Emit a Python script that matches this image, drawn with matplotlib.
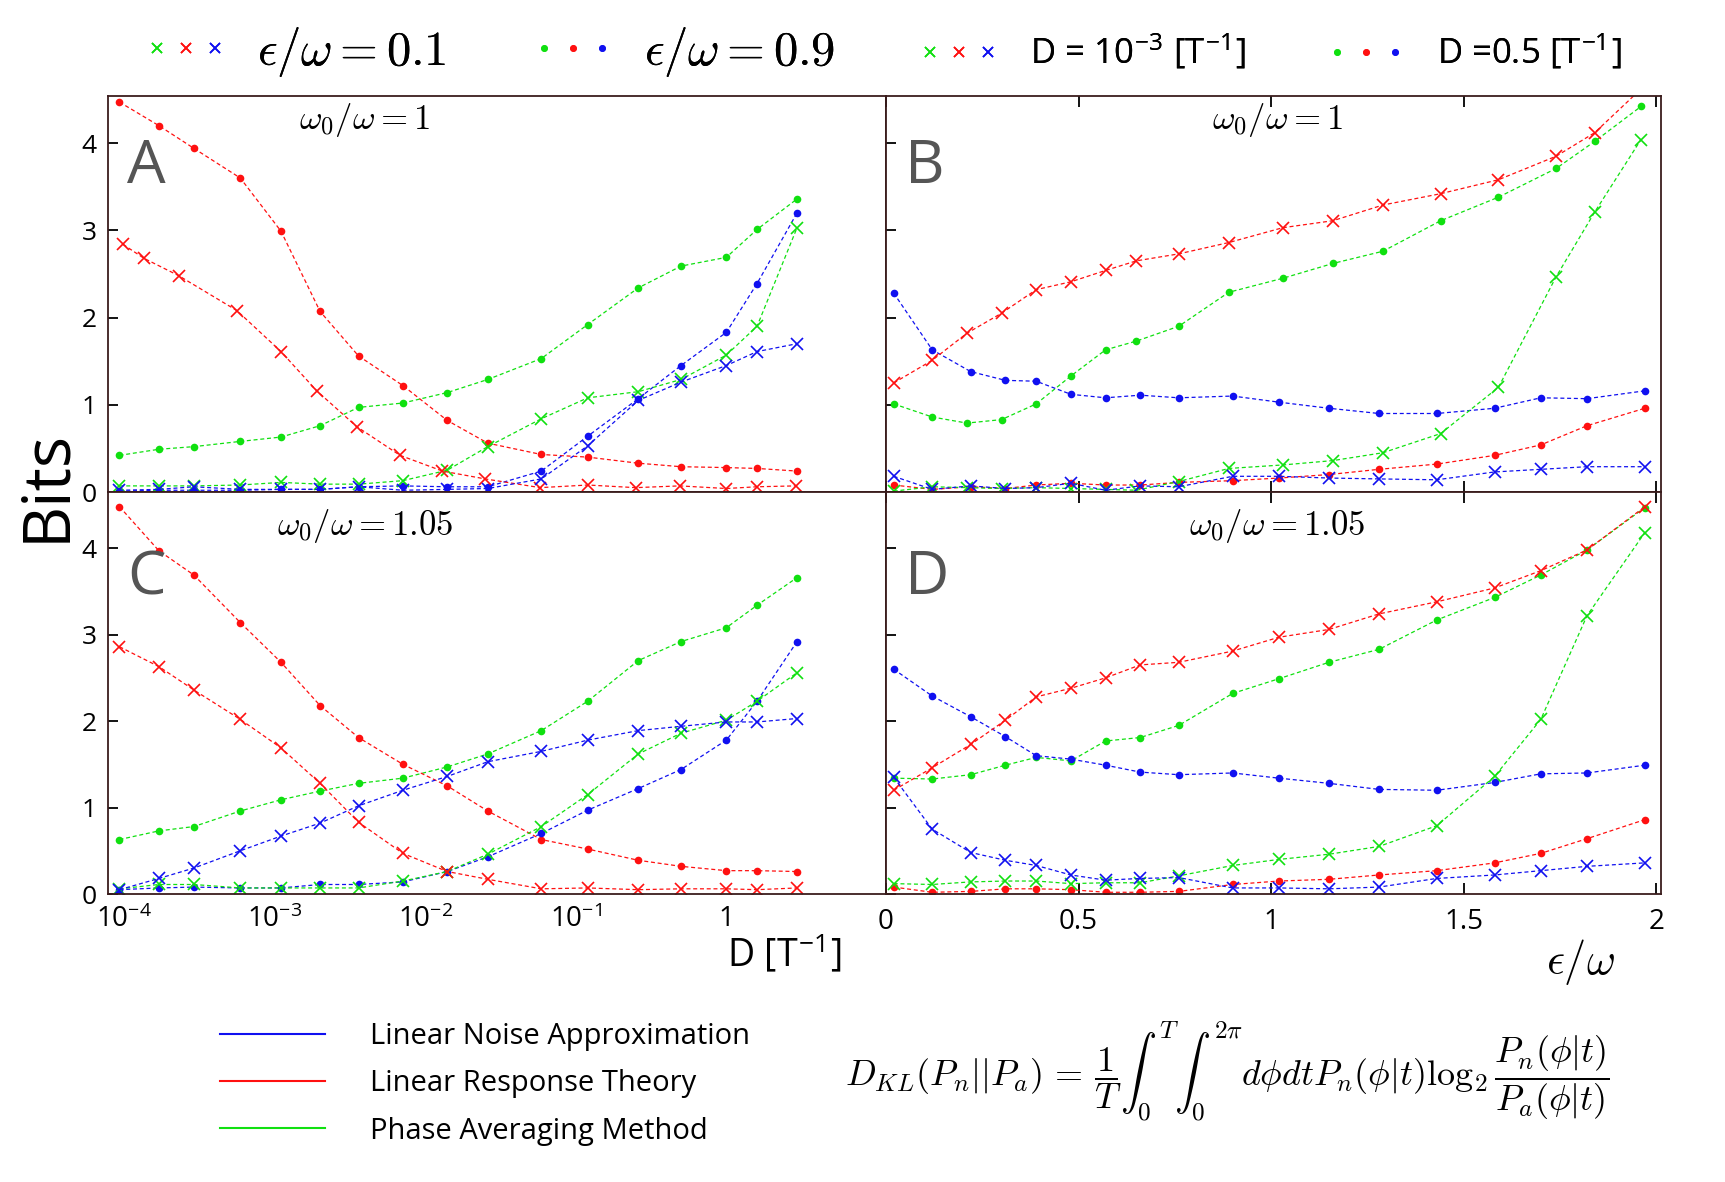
import matplotlib
matplotlib.use("Agg")
import matplotlib.pyplot as plt
from matplotlib.lines import Line2D
from matplotlib.legend_handler import HandlerTuple

plt.rcParams['font.family'] = ['Open Sans', 'DejaVu Sans']
plt.rcParams['mathtext.fontset'] = 'cm'

GREEN = '#10e010'
RED = '#ff1010'
BLUE = '#1010f0'
SPINE = '#3a1c1c'

# ---- x grids ----
D_X = [9.3e-5, 1.7e-4, 2.9e-4, 5.9e-4, 1.1e-3, 2.0e-3, 3.6e-3, 7.1e-3, 1.4e-2, 2.6e-2,
       5.9e-2, 0.12, 0.26, 0.5, 1.0, 1.6, 2.95]
D_X_A_LRT01 = [9.8e-5, 1.35e-4, 2.3e-4, 5.6e-4, 1.1e-3, 1.9e-3, 3.5e-3, 6.8e-3, 1.3e-2, 2.5e-2,
               5.8e-2, 0.12, 0.25, 0.49, 1.0, 1.6, 2.9]
EPS_X1 = [0.02, 0.12, 0.21, 0.30, 0.39, 0.48, 0.57, 0.65, 0.76, 0.89, 1.03, 1.16, 1.29, 1.44,
          1.59, 1.74, 1.84, 1.96]
EPS_X2 = [0.02, 0.12, 0.22, 0.31, 0.39, 0.48, 0.57, 0.66, 0.76, 0.90, 1.02, 1.15, 1.28, 1.43,
          1.58, 1.70, 1.82, 1.97]

# ---- panel A (omega0/omega = 1, vs D) ----
A_LNA_01 = [0.02, 0.03, 0.06, 0.03, 0.03, 0.03, 0.06, 0.02, 0.03, 0.04, 0.15, 0.53, 1.05, 1.26, 1.45, 1.61, 1.70]
A_LNA_09 = [0.01, 0.02, 0.02, 0.02, 0.03, 0.03, 0.06, 0.07, 0.06, 0.06, 0.24, 0.64, 1.07, 1.45, 1.83, 2.39, 3.20]
A_LRT_01 = [2.84, 2.68, 2.48, 2.08, 1.61, 1.16, 0.75, 0.42, 0.24, 0.15, 0.05, 0.08, 0.05, 0.07, 0.04, 0.06, 0.07]
A_LRT_09 = [4.47, 4.20, 3.94, 3.60, 2.99, 2.07, 1.56, 1.22, 0.82, 0.56, 0.43, 0.40, 0.33, 0.29, 0.28, 0.27, 0.24]
A_PAM_01 = [0.07, 0.07, 0.07, 0.08, 0.11, 0.09, 0.09, 0.13, 0.25, 0.52, 0.84, 1.08, 1.15, 1.29, 1.57, 1.90, 3.03]
A_PAM_09 = [0.42, 0.49, 0.52, 0.58, 0.63, 0.76, 0.97, 1.02, 1.14, 1.29, 1.53, 1.92, 2.34, 2.59, 2.69, 3.01, 3.36]

# ---- panel C (omega0/omega = 1.05, vs D) ----
C_LNA_01 = [0.05, 0.18, 0.30, 0.50, 0.67, 0.82, 1.02, 1.20, 1.36, 1.53, 1.65, 1.78, 1.89, 1.94, 1.99, 1.99, 2.03]
C_LNA_09 = [0.05, 0.07, 0.08, 0.07, 0.07, 0.11, 0.11, 0.14, 0.26, 0.43, 0.70, 0.97, 1.22, 1.44, 1.78, 2.23, 2.92]
C_LRT_01 = [2.86, 2.63, 2.36, 2.02, 1.69, 1.28, 0.83, 0.47, 0.26, 0.17, 0.06, 0.07, 0.05, 0.06, 0.06, 0.05, 0.07]
C_LRT_09 = [4.48, 3.97, 3.69, 3.14, 2.68, 2.18, 1.81, 1.50, 1.25, 0.96, 0.63, 0.52, 0.39, 0.32, 0.27, 0.27, 0.26]
C_PAM_01 = [0.06, 0.11, 0.11, 0.07, 0.07, 0.07, 0.07, 0.15, 0.26, 0.46, 0.78, 1.15, 1.62, 1.86, 2.01, 2.23, 2.56]
C_PAM_09 = [0.63, 0.73, 0.78, 0.96, 1.09, 1.19, 1.28, 1.34, 1.47, 1.62, 1.89, 2.23, 2.70, 2.92, 3.08, 3.34, 3.66]

# ---- panel B (omega0/omega = 1, vs eps/omega) ----
B_LNA_D3 = [0.18, 0.03, 0.07, 0.04, 0.05, 0.10, 0.02, 0.07, 0.06, 0.18, 0.18, 0.16, 0.15, 0.14, 0.23, 0.26, 0.29, 0.29]
B_LNA_D05 = [2.28, 1.63, 1.38, 1.28, 1.27, 1.12, 1.08, 1.11, 1.08, 1.10, 1.03, 0.96, 0.90, 0.90, 0.96, 1.08, 1.07, 1.16]
B_LRT_D3 = [1.25, 1.51, 1.82, 2.05, 2.32, 2.41, 2.54, 2.65, 2.73, 2.86, 3.03, 3.11, 3.29, 3.42, 3.58, 3.85, 4.12, 4.62]
B_LRT_D05 = [0.08, 0.03, 0.06, 0.04, 0.08, 0.10, 0.08, 0.08, 0.11, 0.13, 0.16, 0.20, 0.26, 0.32, 0.42, 0.54, 0.76, 0.96]
B_PAM_D3 = [0.01, 0.06, 0.05, 0.04, 0.05, 0.04, 0.03, 0.02, 0.12, 0.27, 0.31, 0.36, 0.45, 0.67, 1.20, 2.47, 3.21, 4.04]
B_PAM_D05 = [1.01, 0.86, 0.79, 0.83, 1.01, 1.33, 1.63, 1.73, 1.90, 2.29, 2.45, 2.62, 2.76, 3.11, 3.38, 3.71, 4.02, 4.42]

# ---- panel D (omega0/omega = 1.05, vs eps/omega) ----
D_LNA_D3 = [1.35, 0.75, 0.48, 0.39, 0.33, 0.22, 0.16, 0.18, 0.19, 0.07, 0.07, 0.06, 0.08, 0.18, 0.22, 0.27, 0.32, 0.36]
D_LNA_D05 = [2.60, 2.29, 2.05, 1.82, 1.60, 1.56, 1.49, 1.41, 1.38, 1.40, 1.34, 1.28, 1.21, 1.20, 1.29, 1.39, 1.40, 1.49]
D_LRT_D3 = [1.20, 1.46, 1.73, 2.01, 2.28, 2.38, 2.50, 2.65, 2.68, 2.81, 2.97, 3.06, 3.24, 3.38, 3.54, 3.74, 3.98, 4.48]
D_LRT_D05 = [0.08, 0.02, 0.03, 0.06, 0.06, 0.05, 0.02, 0.02, 0.03, 0.11, 0.15, 0.17, 0.22, 0.27, 0.36, 0.47, 0.64, 0.86]
D_PAM_D3 = [0.12, 0.11, 0.14, 0.15, 0.15, 0.12, 0.13, 0.13, 0.21, 0.33, 0.40, 0.46, 0.55, 0.79, 1.36, 2.02, 3.22, 4.18]
D_PAM_D05 = [1.34, 1.33, 1.38, 1.49, 1.58, 1.54, 1.77, 1.81, 1.95, 2.32, 2.49, 2.68, 2.83, 3.17, 3.43, 3.69, 3.98, 4.47]

DASH = (0, (3.2, 2.2))


def series(ax, x, y, color, marker):
    if marker == 'x':
        ax.plot(x, y, ls=DASH, lw=0.9, color=color, marker='x', ms=8, mew=1.2)
    else:
        ax.plot(x, y, ls=DASH, lw=0.9, color=color, marker='o', ms=5.5, mew=0)


def style(ax):
    for s in ax.spines.values():
        s.set_color(SPINE)
        s.set_linewidth(1.3)
    ax.tick_params(axis='y', direction='in', length=7, width=1.3, color='black', labelsize=19, pad=8)
    ax.set_yticks([0, 1, 2, 3, 4])


fig = plt.figure(figsize=(17.25, 11.82), dpi=100)

LX, LW = 108 / 1725, 778 / 1725
RX, RW = 886 / 1725, 775 / 1725
TY, TH = 690 / 1182, 396 / 1182
BY, BH = 288 / 1182, 402 / 1182

axA = fig.add_axes([LX, TY, LW, TH])
axB = fig.add_axes([RX, TY, RW, TH])
axC = fig.add_axes([LX, BY, LW, BH])
axD = fig.add_axes([RX, BY, RW, BH])

# left panels: information vs noise D
for ax, data, ymax in [(axA, (A_LNA_01, A_LNA_09, A_LRT_01, A_LRT_09, A_PAM_01, A_PAM_09), 4.54),
                       (axC, (C_LNA_01, C_LNA_09, C_LRT_01, C_LRT_09, C_PAM_01, C_PAM_09), 4.65)]:
    lna01, lna09, lrt01, lrt09, pam01, pam09 = data
    x01 = D_X_A_LRT01 if ax is axA else D_X
    series(ax, D_X, pam09, GREEN, 'o')
    series(ax, D_X, lrt09, RED, 'o')
    series(ax, D_X, lna09, BLUE, 'o')
    series(ax, D_X, pam01, GREEN, 'x')
    series(ax, x01, lrt01, RED, 'x')
    series(ax, D_X, lna01, BLUE, 'x')
    ax.set_xscale('log')
    ax.set_xlim(7.8e-5, 11.5)
    ax.set_ylim(0, ymax)
    style(ax)
    ax.minorticks_off()
    ax.tick_params(axis='x', length=0)
    if ax is axA:
        ax.set_xticks([])
    else:
        ax.set_xticks([1e-4, 1e-3, 1e-2, 1e-1, 1])
        ax.set_xticklabels([r'$\mathregular{10^{-4}}$', r'$\mathregular{10^{-3}}$',
                            r'$\mathregular{10^{-2}}$', r'$\mathregular{10^{-1}}$', '1'],
                           fontsize=20)
        ax.tick_params(axis='x', pad=8)

# right panels: information vs forcing amplitude
for ax, data, ymax in [(axB, (B_LNA_D3, B_LNA_D05, B_LRT_D3, B_LRT_D05, B_PAM_D3, B_PAM_D05), 4.54),
                       (axD, (D_LNA_D3, D_LNA_D05, D_LRT_D3, D_LRT_D05, D_PAM_D3, D_PAM_D05), 4.65)]:
    lna3, lna05, lrt3, lrt05, pam3, pam05 = data
    xa = EPS_X1 if ax is axB else EPS_X2
    series(ax, xa, pam05, GREEN, 'o')
    series(ax, EPS_X2, lrt05, RED, 'o')
    series(ax, EPS_X2, lna05, BLUE, 'o')
    series(ax, xa, pam3, GREEN, 'x')
    series(ax, xa, lrt3, RED, 'x')
    series(ax, EPS_X2, lna3, BLUE, 'x')
    ax.set_xlim(0, 2.012)
    ax.set_ylim(0, ymax)
    style(ax)
    ax.set_yticklabels([])
    ax.set_xticks([0, 0.5, 1, 1.5, 2])
    ax.tick_params(axis='x', direction='in', length=8, width=1.3, top=True, labelsize=20, pad=10)
    if ax is axB:
        ax.set_xticklabels([])
    else:
        ax.set_xticklabels(['0', '0.5', '1', '1.5', '2'])

# panel letters and titles
for ax, letter, title, ly, ty in [(axA, 'A', r'$\omega_0/\omega = 1$', 0.82, 0.94),
                                  (axB, 'B', r'$\omega_0/\omega = 1$', 0.82, 0.94),
                                  (axC, 'C', r'$\omega_0/\omega = 1.05$', 0.785, 0.915),
                                  (axD, 'D', r'$\omega_0/\omega = 1.05$', 0.785, 0.915)]:
    ax.text(0.025, ly, letter, transform=ax.transAxes, fontsize=44, color='#555555',
            ha='left', va='center')
    tx = 0.33 if ax in (axA, axC) else 0.505
    ax.text(tx, ty, title, transform=ax.transAxes, fontsize=25, ha='center', va='center')

fig.text(47 / 1725, 1 - 486 / 1182, 'Bits', rotation=90, fontsize=47, ha='center', va='center')
fig.text(785 / 1725, 1 - 955 / 1182, r'D [T$^{\mathregular{-1}}$]', fontsize=27, ha='center', va='center')
fig.text(1581 / 1725, 1 - 962 / 1182, r'$\epsilon/\omega$', fontsize=32, ha='center', va='center')

# top legend: marker groups
def mk(marker, color, ms):
    if marker == 'x':
        return Line2D([], [], ls='none', marker='x', color=color, ms=ms, mew=1.2)
    return Line2D([], [], ls='none', marker='o', color=color, ms=ms * 0.7, mew=0)


groups = [('x', r'$\epsilon/\omega = 0.1$', 142, 35),
          ('o', r'$\epsilon/\omega = 0.9$', 529, 35),
          ('x', r'D = 10$^{\mathregular{-3}}$ [T$^{\mathregular{-1}}$]', 915, 25),
          ('o', r'D =0.5 [T$^{\mathregular{-1}}$]', 1322, 25)]
for marker, label, x0, fs in groups:
    h = tuple(mk(marker, c, 7) for c in (GREEN, RED, BLUE))
    fsp = fs * 100 / 72
    leg = fig.legend([h], [label], loc='center left', bbox_to_anchor=(x0 / 1725, 1 - 52 / 1182),
                     frameon=False, fontsize=fs, numpoints=1, borderpad=0, borderaxespad=0,
                     handlelength=87 / fsp, handletextpad=28 / fsp,
                     handler_map={tuple: HandlerTuple(ndivide=None, pad=0)})
    fig.add_artist(leg)

# bottom legend: methods
method_handles = [Line2D([], [], color=BLUE, lw=1.5),
                  Line2D([], [], color=RED, lw=1.5),
                  Line2D([], [], color=GREEN, lw=1.5)]
method_labels = ['Linear Noise Approximation', 'Linear Response Theory', 'Phase Averaging Method']
fs2 = 21
fsp2 = fs2 * 100 / 72
fig.legend(method_handles, method_labels, loc='center left', bbox_to_anchor=(220 / 1725, 1 - 1084 / 1182),
           frameon=False, fontsize=fs2, borderpad=0, borderaxespad=0,
           handlelength=105 / fsp2, handletextpad=45 / fsp2, labelspacing=0.62)

fig.text(1227 / 1725, 1 - 1072 / 1182,
         r'$D_{KL}(P_n||P_a) \/=\/ \dfrac{1}{T}\int_0^T\int_0^{2\pi} d\phi dt P_n(\phi|t)\log_2\dfrac{P_n(\phi|t)}{P_a(\phi|t)}$',
         fontsize=26, ha='center', va='center')

fig.savefig('out.png', dpi=100)
